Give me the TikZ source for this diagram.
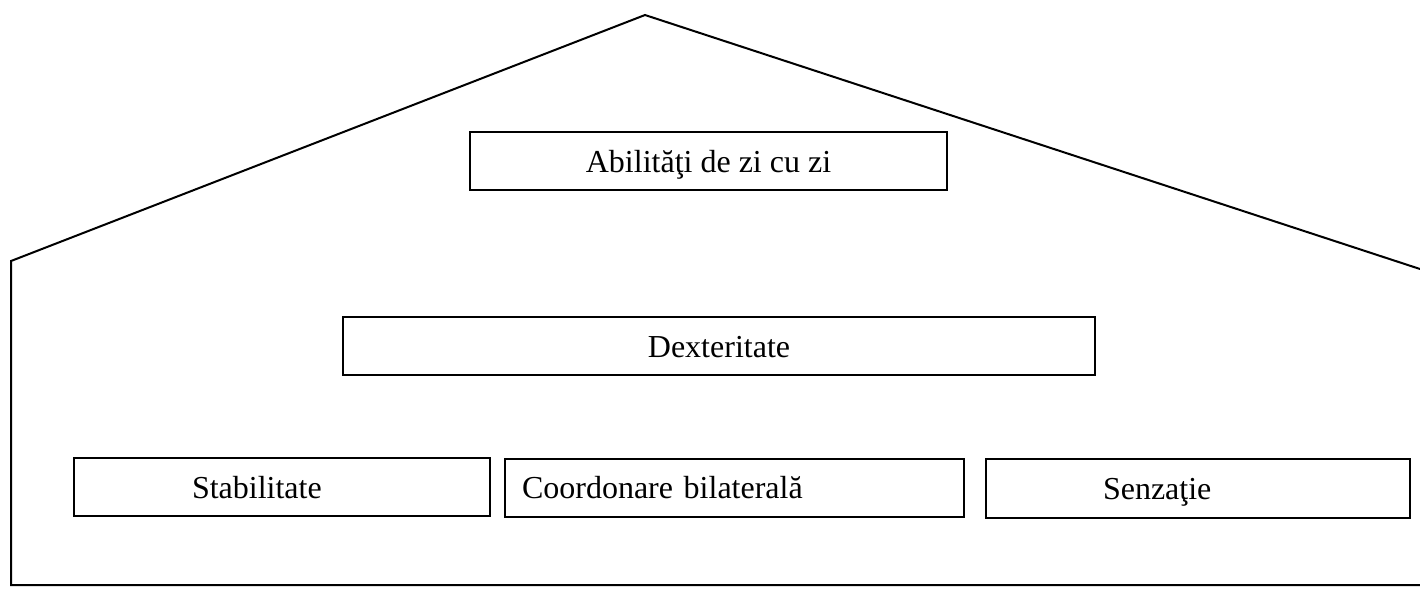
\documentclass[tikz,border=0pt]{standalone}
\usepackage{fontspec}
\setmainfont{Liberation Serif}
\usepackage{tikz}
\tikzset{
  housebox/.style={rectangle,draw=black,fill=white,line width=1pt,
    minimum height=29pt,inner ysep=0pt,text height=11pt,text depth=0pt,
    font=\fontsize{16}{19}\selectfont},
  leftbox/.style 2 args={housebox,align=left,text width=#1,inner xsep=#2},
  houseline/.style={line width=1pt,line join=miter},
}
\begin{document}
\begin{tikzpicture}[x=0.5pt,y=-0.5pt]
  \useasboundingbox (0,0) rectangle (1420,590);
  % outline of the house
  \coordinate (roofR) at (1420,269); \coordinate (peak) at (645,15);
  \coordinate (eaveL) at (11,261); \coordinate (floorL) at (11,585);
  \coordinate (floorR) at (1420,585);
  \draw[houseline] (roofR)--(peak)--(eaveL)--(floorL)--(floorR);
  % boxes
  \node[housebox,minimum width=238.5pt] (abil) at (708.5,161){Abilităţi de zi cu zi};
  \node[housebox,minimum width=376pt] (dext) at (719,346){Dexteritate};
  \node[leftbox={90pt}{59pt}] (stab) at (282,487){Stabilitate};
  \node[leftbox={212.5pt}{8.5pt}] (coord) at (734.5,487.5){Coordonare bilaterală};
  \node[leftbox={95pt}{58.5pt},minimum height=29.5pt] (senz) at (1198,488.5){Senzaţie};
\end{tikzpicture}
\end{document}
